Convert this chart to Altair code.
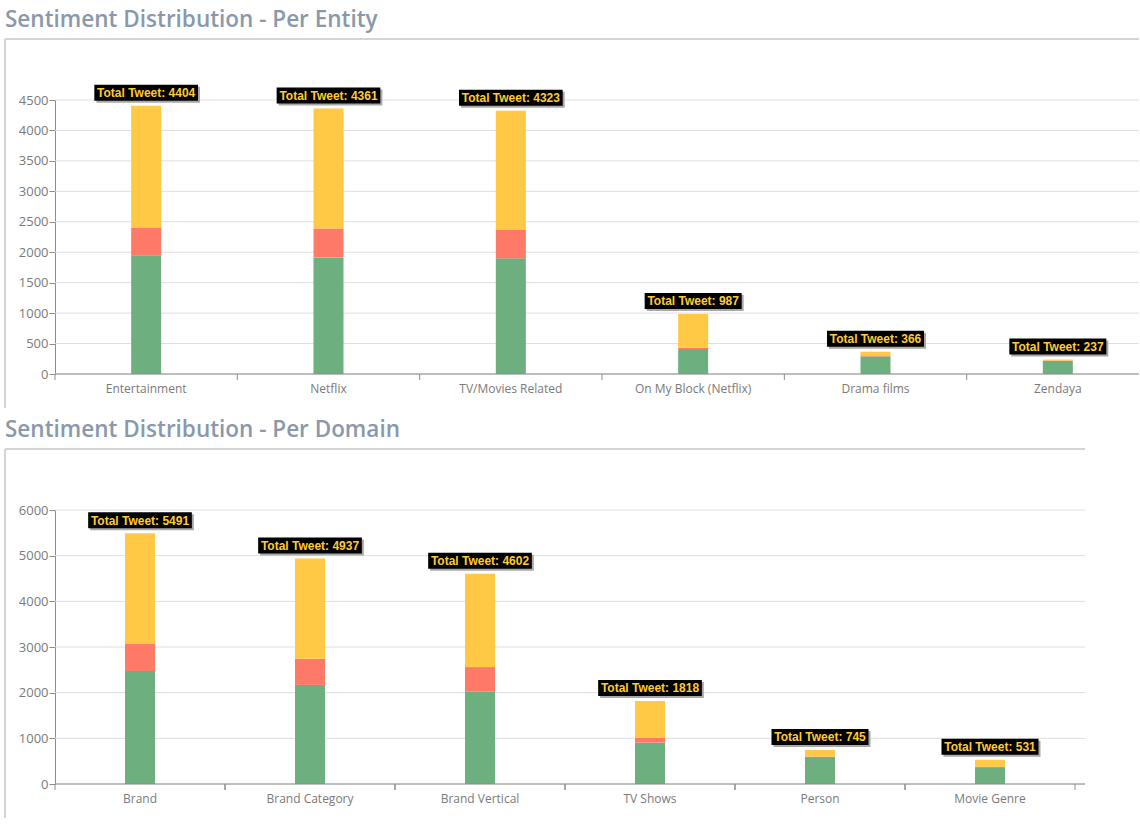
import altair as alt
import pandas as pd

# ---- data -------------------------------------------------------------
SENTIMENTS = ["Positive", "Negative", "Neutral"]
COLORS = ["#6daf7f", "#ff7968", "#ffc845"]

entities = ["Entertainment", "Netflix", "TV/Movies Related",
            "On My Block (Netflix)", "Drama films", "Zendaya"]
entity_positive = [1950, 1915, 1900, 410, 288, 215]
entity_negative = [456, 475, 475, 20, 18, 6]
entity_neutral = [1998, 1971, 1948, 557, 60, 16]
entity_total = [4404, 4361, 4323, 987, 366, 237]

domains = ["Brand", "Brand Category", "Brand Vertical",
           "TV Shows", "Person", "Movie Genre"]
domain_positive = [2475, 2170, 2020, 905, 590, 370]
domain_negative = [590, 570, 540, 110, 10, 6]
domain_neutral = [2426, 2197, 2042, 803, 145, 155]
domain_total = [5491, 4937, 4602, 1818, 745, 531]

entity_ticks = [0, 500, 1000, 1500, 2000, 2500, 3000, 3500, 4000, 4500]
domain_ticks = [0, 1000, 2000, 3000, 4000, 5000, 6000]

AXIS_GREY = "#8c8c8c"
LABEL_GREY = "#7a7a7a"
FRAME_GREY = "#d4d4d4"
GRID_GREY = "#dedede"
H = 274


def panel(title, cats, pos, neg, neu, tot, ticks_y, width, band_span, end_ticks, frame_bottom):
    rows = []
    for i, c in enumerate(cats):
        for k, (s, v) in enumerate(zip(SENTIMENTS, [pos[i], neg[i], neu[i]])):
            rows.append({"category": c, "sentiment": s, "value": v, "order": k})
    long = pd.DataFrame(rows)
    totals = pd.DataFrame({"category": cats, "total": tot})
    grid_df = pd.DataFrame({"tick": ticks_y})
    one = pd.DataFrame({"a": [0]})

    xscale = alt.Scale(domain=cats, range=[0, band_span], paddingInner=0, paddingOuter=0)
    X = alt.X("category:N", scale=xscale, axis=None, sort=cats)

    yscale = alt.Scale(domain=[0, ticks_y[-1]], nice=False)
    y_axis = alt.Axis(values=ticks_y, format="d", title=None, grid=False,
                      domainColor=AXIS_GREY, tickColor=AXIS_GREY, tickSize=6,
                      labelColor=LABEL_GREY, labelFont="Open Sans", labelFontSize=13,
                      labelPadding=1)

    frame_top = alt.Chart(one).mark_rule(color=FRAME_GREY, strokeWidth=2).encode(
        x=alt.value(-50), x2=alt.value(width), y=alt.value(-61))
    frame_left = alt.Chart(one).mark_rule(color=FRAME_GREY, strokeWidth=2).encode(
        x=alt.value(-50), y=alt.value(-61), y2=alt.value(frame_bottom))
    title_txt = alt.Chart(one).mark_text(
        text=title, align="left", baseline="alphabetic", font="Open Sans",
        fontSize=22.5, fontWeight=600, color="#8a98ac").encode(
        x=alt.value(-50), y=alt.value(-73))

    grid = alt.Chart(grid_df).mark_rule(color=GRID_GREY).encode(
        y=alt.Y("tick:Q", scale=yscale, axis=y_axis),
        x=alt.value(0), x2=alt.value(width))

    bars = alt.Chart(long).mark_bar(width=30).encode(
        x=X,
        y=alt.Y("value:Q", stack="zero", scale=yscale, axis=y_axis),
        color=alt.Color("sentiment:N", scale=alt.Scale(domain=SENTIMENTS, range=COLORS),
                        legend=None),
        order=alt.Order("order:Q", sort="ascending"),
    )

    xline = alt.Chart(one).mark_rule(color=AXIS_GREY).encode(
        x=alt.value(0), x2=alt.value(width), y=alt.value(H))

    layers = [frame_top, frame_left, title_txt, grid, bars, xline]

    band_edges = [0, 1] if end_ticks else [0]
    for bp in band_edges:
        layers.append(alt.Chart(totals).mark_rule(color=AXIS_GREY).encode(
            x=alt.X("category:N", scale=xscale, axis=None, sort=cats, bandPosition=bp),
            y=alt.value(H), y2=alt.value(H + 6)))

    xlabels = alt.Chart(totals).mark_text(
        font="Open Sans", fontSize=12, color=LABEL_GREY, baseline="middle").encode(
        x=X, y=alt.value(H + 15), text="category:N")
    layers.append(xlabels)

    lab = alt.Chart(totals).transform_calculate(
        label="'Total Tweet: ' + datum.total",
        boxw="77 + 6.67 * length(toString(datum.total))",
    )
    Yt = alt.Y("total:Q", scale=yscale, axis=y_axis)
    shadow = lab.mark_bar(color="#a8a8a8", xOffset=2, yOffset=-19, y2Offset=-3).encode(
        x=X, y=Yt, y2="total:Q", size=alt.Size("boxw:Q", scale=None))
    box = lab.mark_bar(color="#000000", yOffset=-21, y2Offset=-5).encode(
        x=X, y=Yt, y2="total:Q", size=alt.Size("boxw:Q", scale=None))
    txt = lab.mark_text(font="Liberation Sans", fontWeight="bold", fontSize=12,
                        color="#ffcc33", baseline="alphabetic", dy=-8.5).encode(
        x=X, y=Yt, text="label:N")
    layers += [shadow, box, txt]

    return alt.layer(*layers).properties(width=width, height=H)


p1 = panel("Sentiment Distribution - Per Entity", entities, entity_positive,
           entity_negative, entity_neutral, entity_total, entity_ticks,
           width=1084, band_span=1094, end_ticks=False, frame_bottom=308)
p2 = panel("Sentiment Distribution - Per Domain", domains, domain_positive,
           domain_negative, domain_neutral, domain_total, domain_ticks,
           width=1030, band_span=1020, end_ticks=True, frame_bottom=308)

chart = alt.vconcat(p1, p2, spacing=10).properties(
    padding={"left": 4, "top": 9, "right": 0, "bottom": 0},
    background="white",
).configure_view(stroke=None).resolve_scale(x="independent", y="independent", color="shared")

chart.save("out.html", embed_options={"renderer": "svg", "actions": False})
